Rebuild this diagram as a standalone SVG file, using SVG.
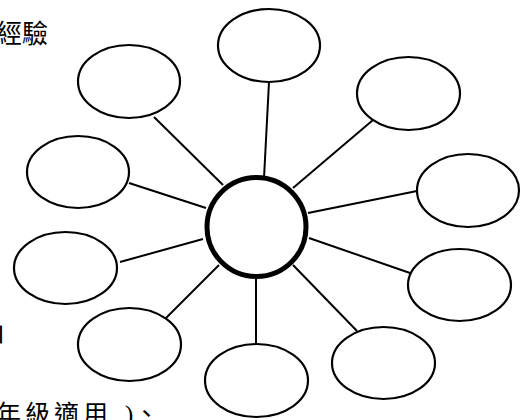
<svg xmlns="http://www.w3.org/2000/svg" width="530" height="420" viewBox="0 0 530 420">
<style>
.bg{fill:#fff}
.node{fill:#fff;stroke:#000;stroke-width:2.2}
.hub{fill:#fff;stroke:#000;stroke-width:5}
.conn line{stroke:#000;stroke-width:2}
.txt{font-family:"Liberation Serif","Noto Sans CJK TC",serif;fill:#000}
</style>
<rect class="bg" x="0" y="0" width="530" height="420"/>
<g id="connectors" class="conn">
<line x1="269" y1="82" x2="264" y2="178"/>
<line x1="154" y1="117" x2="223" y2="185"/>
<line x1="373" y1="120" x2="293" y2="188"/>
<line x1="417" y1="191" x2="308" y2="213"/>
<line x1="129" y1="183" x2="206" y2="208"/>
<line x1="120" y1="262" x2="203" y2="239"/>
<line x1="410" y1="273" x2="309" y2="238"/>
<line x1="357" y1="331" x2="293" y2="265"/>
<line x1="163" y1="321" x2="219" y2="265"/>
<line x1="256" y1="344" x2="256" y2="277"/>
</g>
<g id="hub"><circle class="hub" cx="256.5" cy="227" r="49.5"/></g>
<g id="n1"><ellipse class="node" cx="269" cy="45.5" rx="51" ry="36.5"/></g>
<g id="n2"><ellipse class="node" cx="129" cy="81.5" rx="51" ry="36.5"/></g>
<g id="n3"><ellipse class="node" cx="408.5" cy="93.5" rx="51.5" ry="36.5"/></g>
<g id="n4"><ellipse class="node" cx="468" cy="190.5" rx="51" ry="36.5"/></g>
<g id="n5"><ellipse class="node" cx="78" cy="172" rx="51" ry="36"/></g>
<g id="n6"><ellipse class="node" cx="65.5" cy="268" rx="51.5" ry="36"/></g>
<g id="n7"><ellipse class="node" cx="459.5" cy="285" rx="51.5" ry="36"/></g>
<g id="n8"><ellipse class="node" cx="383.5" cy="363" rx="51.5" ry="36"/></g>
<g id="n9"><ellipse class="node" cx="129.5" cy="344.5" rx="51.5" ry="36.5"/></g>
<g id="n10"><ellipse class="node" cx="256.5" cy="380.5" rx="51.5" ry="36.5"/></g>
<g id="texts">
<text class="txt" x="-4" y="43" font-size="26">經驗</text>
<text class="txt" x="-1" y="339" font-size="19" stroke="#000" stroke-width="1">|</text>
<text class="txt" x="-4" y="423" font-size="25" letter-spacing="4">年級適用</text>
<text class="txt" x="125" y="423" font-size="25">)</text>
<text class="txt" x="134" y="423" font-size="25">、</text>
</g>
</svg>
